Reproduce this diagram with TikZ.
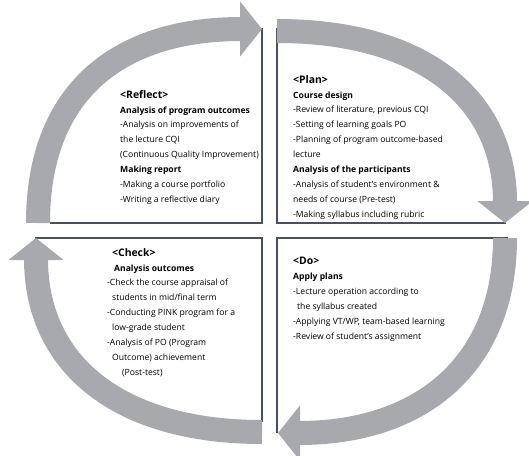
\documentclass[tikz,border=0pt]{standalone}
\usepackage{fontspec}
\setmainfont{Open Sans}
\usetikzlibrary{arrows.meta}
\definecolor{cyclegray}{HTML}{A7A9AE}
\definecolor{edgeslate}{HTML}{46525F}

\begin{document}
\begin{tikzpicture}[
  x=1pt, y=-1pt,
  cycle/.style={draw=cyclegray, line width=24pt, -{Triangle[length=22pt, width=54pt]}},
  edge/.style={draw=edgeslate, line width=1.3pt},
  stage/.style={anchor=north west, inner sep=0pt, align=left, font=\fontsize{8.6}{14.9}\selectfont},
  phase/.style={font=\fontsize{10}{14.9}\selectfont\bfseries}
]
  \useasboundingbox (0,0) rectangle (529,455);

  % quadrant edges
  \draw[edge] (262,28) -- (262,223) -- (50,223);
  \draw[edge] (277,28) -- (277,223) -- (506,223);
  \draw[edge] (508,238) -- (277,238) -- (277,433);
  \draw[edge] (35,238) -- (262,238) -- (262,422);

  % ends of the cycle arrows
  \coordinate (reflect-in) at (38,223);
  \coordinate (reflect-out) at (262,29);
  \coordinate (plan-in) at (277,31);
  \coordinate (plan-out) at (505,223);
  \coordinate (do-in) at (505,238);
  \coordinate (do-out) at (278,433);
  \coordinate (check-in) at (262,432);
  \coordinate (check-out) at (36,238);

  \draw[cycle] (reflect-in) .. controls +(0,-130) and +(-145,0) .. (reflect-out);
  \draw[cycle] (plan-in) .. controls +(145,0) and +(0,-125) .. (plan-out);
  \draw[cycle] (do-in) .. controls +(0,125) and +(145,0) .. (do-out);
  \draw[cycle] (check-in) .. controls +(-145,0) and +(0,125) .. (check-out);

  % stage texts
  \node[stage] (reflect) at (120,90) {{\fontsize{10.4}{14.9}\selectfont\bfseries <Reflect>}\\
    \textbf{Analysis of program outcomes}\\
    -Analysis on improvements of\\
    the lecture CQI\\
    (Continuous Quality Improvement)\\
    \textbf{Making report}\\
    -Making a course portfolio\\
    -Writing a reflective diary};
  \node[stage] (plan) at (293,75) {{\fontsize{10.4}{14.9}\selectfont\bfseries <Plan>}\\
    \textbf{Course design}\\
    -Review of literature, previous CQI\\
    -Setting of learning goals PO\\
    -Planning of program outcome-based\\
    lecture\\
    \textbf{Analysis of the participants}\\
    -Analysis of student's environment \&\\
    needs of course (Pre-test)\\
    -Making syllabus including rubric};
  \node[stage] (do) at (293,257) {{\fontsize{10.4}{14.9}\selectfont\bfseries <Do>}\\
    \textbf{Apply plans}\\
    -Lecture operation according to\\
    \hspace*{4pt}the syllabus created\\
    -Applying VT/WP, team-based learning\\
    -Review of student's assignment};
  \node[stage] (check) at (107,248) {\hspace*{5pt}{\fontsize{10.4}{14.9}\selectfont\bfseries <Check>}\\
    \hspace*{7pt}\textbf{Analysis outcomes}\\
    -Check the course appraisal of\\
    \hspace*{5pt}students in mid/final term\\
    -Conducting PINK program for a\\
    \hspace*{5pt}low-grade student\\
    -Analysis of PO (Program\\
    \hspace*{5pt}Outcome) achievement\\
    \hspace*{15pt}(Post-test)};
\end{tikzpicture}
\end{document}
